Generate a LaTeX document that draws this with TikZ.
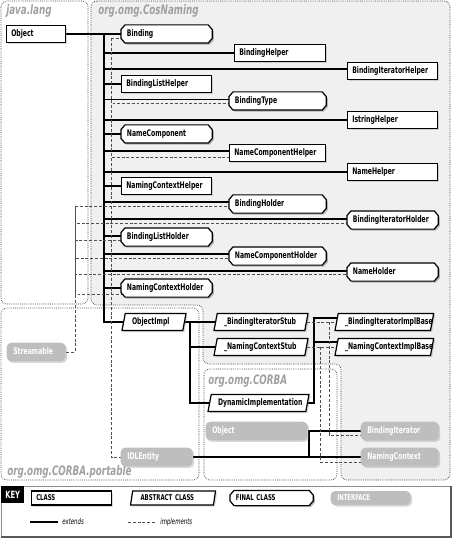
\documentclass[tikz,border=0pt]{standalone}
\usepackage{fontspec}
\usepackage{tikz}
\usetikzlibrary{shapes.geometric,shadows}
\newfontfamily\cnd{DejaVu Sans Condensed}[FakeStretch=0.75]
\hyphenpenalty=10000
\definecolor{pkgfill}{RGB}{240,240,240}
\definecolor{pkglabel}{RGB}{160,160,160}
\definecolor{ifcfill}{RGB}{190,190,190}
\definecolor{dashgray}{RGB}{80,80,80}
\pgfdeclarelayer{pkg}
\pgfdeclarelayer{wire}
\pgfdeclarelayer{shape}
\pgfsetlayers{pkg,wire,shape,main}
% outline of a final class, shifted by #2,#3 (y runs down the page)
\newcommand\octpath[3]{%
  ([xshift=#2+3pt,yshift=#3]#1.north west) -- ([xshift=#2-3pt,yshift=#3]#1.north east)
  -- ([xshift=#2,yshift=#3+3.5pt]#1.north east) -- ([xshift=#2,yshift=#3-3.5pt]#1.south east)
  -- ([xshift=#2-3pt,yshift=#3]#1.south east) -- ([xshift=#2+3pt,yshift=#3]#1.south west)
  -- ([xshift=#2,yshift=#3-3.5pt]#1.south west) -- ([xshift=#2,yshift=#3+3.5pt]#1.north west) -- cycle}
\tikzset{
  nodefont/.style={font=\cnd\bfseries\fontsize{6.8}{8}\selectfont, text height=5pt, text depth=1.6pt},
  classbase/.style={nodefont, anchor=west, minimum height=12.75pt, inner ysep=0pt, align=left, line width=0.9pt},
  boxshadow/.style={drop shadow={shadow xshift=1.2pt, shadow yshift=-1.2pt, opacity=0.3}},
  cls/.style={classbase, draw, fill=white, boxshadow, rectangle, inner xsep=3pt, minimum width=#1, text width=#1-7pt},
  fin/.style={classbase, rectangle, inner xsep=4pt, minimum width=#1, text width=#1-8pt},
  abs/.style={classbase, draw, fill=white, boxshadow, trapezium, trapezium left angle=70, trapezium right angle=110,
    trapezium stretches body, inner xsep=3pt, minimum width=#1, text width=#1-15pt},
  ifc/.style={classbase, rectangle, rounded corners=3.5pt, fill=ifcfill, text=white, inner xsep=5pt,
    minimum width=#1, text width=#1-10pt, minimum height=14pt, boxshadow},
  octline/.style={line width=0.9pt, fill=white},
  octshadow/.style={fill=black!30},
  pkg/.style={draw=black!75, line width=0.5pt, dash pattern=on 0.6pt off 0.8pt, rounded corners=4.5pt},
  pkgname/.style={font=\cnd\bfseries\itshape\fontsize{9.75}{11}\selectfont, text=pkglabel, inner sep=0pt, anchor=west},
  ext/.style={line width=1.1pt},
  impl/.style={line width=0.5pt, draw=dashgray, dash pattern=on 2.2pt off 1.4pt},
  keyitem/.style={font=\cnd\bfseries\fontsize{6}{7}\selectfont, minimum height=10.5pt, text height=4.4pt, text depth=0pt},
  keytab/.style={fill=black, text=white, font=\cnd\bfseries\fontsize{7.5}{8}\selectfont, anchor=north west,
    minimum width=17.25pt, minimum height=12.75pt, inner sep=0pt},
  legend/.style={font=\cnd\itshape\fontsize{6}{7}\selectfont, anchor=west, inner xsep=3pt}
}

\begin{document}
\begin{tikzpicture}[x=0.75pt,y=0.75pt,yscale=-1,xscale=1]
\useasboundingbox (0,0) rectangle (452,538);

%Package boxes
\begin{pgfonlayer}{pkg}
\draw[pkg, fill=white] (1,1) rectangle (88,304);
\draw[pkg, fill=pkgfill] (91,1) -- (450,1) -- (450,480) -- (341,480) -- (341,364) -- (203,364) -- (203,305) -- (91,305) -- cycle;
\draw[pkg, fill=white] (1,308) rectangle (199,480);
\draw[pkg, fill=white] (204,369) rectangle (337,480);
\node[pkgname] (javalang) at (6,11) {java.lang};
\node[pkgname] (cosnaming) at (98,11) {org.omg.CosNaming};
\node[pkgname] (corba) at (208,381) {org.omg.CORBA};
\node[pkgname] (portable) at (7,472) {org.omg.CORBA.portable};
\end{pgfonlayer}

% java.lang
\node[cls=44.25pt] (obj) at (6,34) {Object};

% CosNaming, first column
\node[fin=67.5pt] (binding) at (121,34) {Binding};
\node[cls=67.5pt] (blhelp) at (121,84) {BindingListHelper};
\node[fin=67.5pt] (namecomp) at (121,134) {NameComponent};
\node[cls=67.5pt] (nctxhelp) at (121,186) {NamingContextHelper};
\node[fin=67.5pt] (blhold) at (121,237) {BindingListHolder};
\node[fin=67.5pt] (nctxhold) at (121,288) {NamingContextHolder};

% second column
\node[cls=68.25pt] (bhelp) at (234,53) {BindingHelper};
\node[fin=72pt] (btype) at (229,101) {BindingType};
\node[cls=72pt] (nchelp) at (229,153) {NameComponentHelper};
\node[fin=72pt] (bhold) at (229,204) {BindingHolder};
\node[fin=72pt] (nchold) at (229,256) {NameComponentHolder};

% third column
\node[cls=67.5pt] (bihelp) at (347,71) {BindingIteratorHelper};
\node[cls=67.5pt] (istrhelp) at (347,120) {IstringHelper};
\node[cls=67.5pt] (namehelp) at (347,172) {NameHelper};
\node[fin=67.5pt] (bihold) at (347,220) {BindingIteratorHolder};
\node[fin=67.5pt] (namehold) at (347,272) {NameHolder};

% stubs and impl bases
\node[abs=48pt] (objimpl) at (123,322) {ObjectImpl};
\node[abs=70.5pt] (bistub) at (215,322) {\_BindingIteratorStub};
\node[abs=70.5pt] (nctxstub) at (215,347) {\_NamingContextStub};
\node[abs=75.75pt] (dynimpl) at (209,403) {DynamicImplementation};
\node[abs=74pt] (biimpl) at (336,322) {\_BindingIteratorImplBase};
\node[abs=74pt] (nctximpl) at (336,347) {\_NamingContextImplBase};

% interfaces
\node[ifc=44.25pt] (stream) at (6,352) {Streamable};
\node[ifc=54pt] (idl) at (120,457) {IDLEntity};
\node[ifc=76.5pt] (corbaobj) at (205,431) {Object};
\node[ifc=58.5pt] (biter) at (360,431) {BindingIterator};
\node[ifc=58.5pt] (nctx) at (360,457) {NamingContext};

% Key
\draw[black!45, line width=0.6pt] (1,486) rectangle (451,537);
\draw[black!65, line width=1.2pt] (451,486) -- (451,537) -- (1,537);
\node[keytab] (key) at (1,486) {KEY};
\node[cls=60pt, keyitem] (kcls) at (31,498) {CLASS};
\node[abs=63.75pt, keyitem] (kabs) at (131,498) {ABSTRACT CLASS};
\node[fin=61.5pt, keyitem] (kfin) at (230,498) {FINAL CLASS};
\node[ifc=60pt, keyitem] (kifc) at (330,498) {INTERFACE};
\coordinate (kext0) at (30,522);
\node[legend] (kext) at (58,522) {extends};
\coordinate (kimp0) at (128,522);
\node[legend] (kimp) at (156,522) {implements};

%final class outlines
\begin{pgfonlayer}{shape}
\foreach \n in {binding, namecomp, blhold, nctxhold, btype, bhold, nchold, bihold, namehold, kfin}{
  \fill[octshadow] \octpath{\n}{1.2pt}{1.2pt};
  \draw[octline] \octpath{\n}{0pt}{0pt};
}
\end{pgfonlayer}

\coordinate (trunk) at (104,34);
\coordinate (idlbus) at (111,38);
\coordinate (strbus) at (75,206);
\coordinate (oibus) at (190,322);
\coordinate (dibus) at (314,318);
\coordinate (bibus) at (329,322);
\coordinate (ncbus) at (320,347);
\coordinate (cobus) at (309,431);

\begin{pgfonlayer}{wire}
%extends
\draw[ext] (obj.east) -- (binding.west);
\draw[ext] (trunk) |- ([xshift=3pt]objimpl.west);
\foreach \n/\s in {blhelp/0pt, namecomp/0pt, nctxhelp/0pt, blhold/-0.75pt, nctxhold/0pt,
    bhelp/0pt, btype/-1pt, nchelp/-1.5pt, bhold/-1.5pt, nchold/-1.5pt,
    bihelp/-1.5pt, istrhelp/0pt, namehelp/0pt, bihold/-0.75pt, namehold/-0.75pt}
  \draw[ext] (trunk) |- ([xshift=2pt,yshift=\s]\n.west);
\draw[ext] (objimpl.east) -- (oibus) |- ([xshift=3pt]dynimpl.west);
\draw[ext] (oibus) -- ([xshift=3pt]bistub.west);
\draw[ext] (oibus) |- ([xshift=3pt]nctxstub.west);
\draw[ext] (dynimpl.east) -| (dibus) -- ([xshift=3pt,yshift=-3pt]biimpl.west);
\draw[ext] (dibus) |- ([xshift=3pt,yshift=-3.75pt]nctximpl.west);
\draw[ext] (corbaobj.east) -- ([xshift=2pt]biter.west);
\draw[ext] (idl.east) -- ([xshift=2pt]nctx.west);
\draw[ext] (cobus) -- (cobus |- nctx.west);
\draw[ext, line width=0.8pt] (kext0) -- (kext.west);

%implements
\draw[impl] (idlbus) |- ([xshift=2pt]idl.west);
\foreach \n/\s in {binding/3pt, btype/2pt, nchelp/3pt}
  \draw[impl] (idlbus) |- ([xshift=2pt,yshift=\s]\n.west);
\draw[impl] (stream.east) -| (strbus);
\foreach \n/\s in {bhold/1.5pt, bihold/2.5pt, blhold/2.25pt, nchold/1.5pt, namehold/1.5pt, nctxhold/5pt}
  \draw[impl] (strbus) |- ([xshift=3pt,yshift=\s]\n.west);
\draw[impl] (bistub.east) -- ([xshift=3pt]biimpl.west);
\draw[impl] (nctxstub.east) -- ([xshift=3pt]nctximpl.west);
\draw[impl] (bibus) |- ([xshift=2pt,yshift=3pt]biter.west);
\draw[impl] (ncbus) |- ([xshift=2pt,yshift=3.75pt]nctx.west);
\draw[impl] (kimp0) -- (kimp.west);
\end{pgfonlayer}

\end{tikzpicture}
\end{document}
